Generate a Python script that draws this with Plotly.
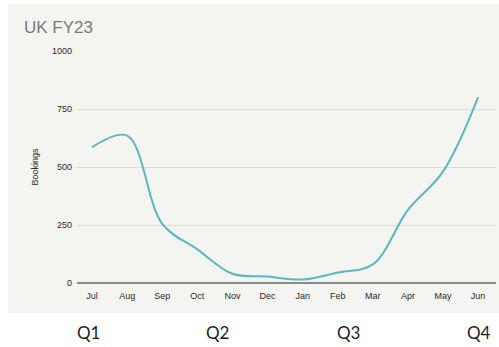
import plotly.graph_objects as go

# Monthly bookings, UK FY23 (July to June)
months = ["Jul", "Aug", "Sep", "Oct", "Nov", "Dec", "Jan", "Feb", "Mar", "Apr", "May", "Jun"]
bookings = [585, 635, 255, 145, 40, 28, 15, 45, 80, 315, 480, 800]

quarters = ["Q1", "Q2", "Q3", "Q4"]
quarter_pos = [-0.11, 3.56, 7.32, 11.03]

y_ticks = [0, 250, 500, 750, 1000]

tick_font = dict(family="Liberation Sans, Arial, sans-serif", size=9, color="#2a2a2a")

fig = go.Figure()
fig.add_trace(go.Scatter(
    x=list(range(len(months))),
    y=bookings,
    mode="lines",
    line=dict(color="#5ab7c3", width=2, shape="spline", smoothing=1.0),
    hoverinfo="skip",
))

# light card behind the chart
fig.add_shape(
    type="rect", xref="paper", yref="paper",
    x0=-0.1647, x1=1.01, y0=-0.129, y1=1.2026,
    fillcolor="#f4f4f1", line=dict(width=0), layer="below",
)

for q, p in zip(quarters, quarter_pos):
    fig.add_annotation(
        x=p, y=-0.215, xref="x", yref="paper", text=q, showarrow=False,
        font=dict(family="Lato, Open Sans, sans-serif", size=17, color="#1e1e1e"),
        xanchor="center", yanchor="middle",
    )

fig.add_annotation(
    x=-0.132, y=1.10, xref="paper", yref="paper", text="UK FY23", showarrow=False,
    font=dict(family="Liberation Sans, Arial, sans-serif", size=17, color="#7a7a7a"),
    xanchor="left", yanchor="middle",
)

fig.update_layout(
    width=499, height=347,
    margin=dict(l=77, r=3, t=51, b=64),
    paper_bgcolor="white",
    plot_bgcolor="rgba(0,0,0,0)",
    showlegend=False,
    xaxis=dict(
        tickmode="array", tickvals=list(range(len(months))), ticktext=months,
        range=[-0.43, 11.51], showgrid=False, zeroline=False,
        showline=False, ticks="", ticklabelstandoff=6,
        tickfont=tick_font,
    ),
    yaxis=dict(
        range=[0, 1000], tickvals=y_ticks, ticks="",
        showgrid=True, gridcolor="#dcdcd8", gridwidth=1,
        zeroline=True, zerolinecolor="#8a8a8a", zerolinewidth=1.5,
        tickfont=tick_font, ticklabelstandoff=4,
        title=dict(text="Bookings", standoff=11,
                   font=dict(family="Liberation Sans, Arial, sans-serif", size=9, color="#2a2a2a")),
    ),
)

fig.write_html("out.html")
